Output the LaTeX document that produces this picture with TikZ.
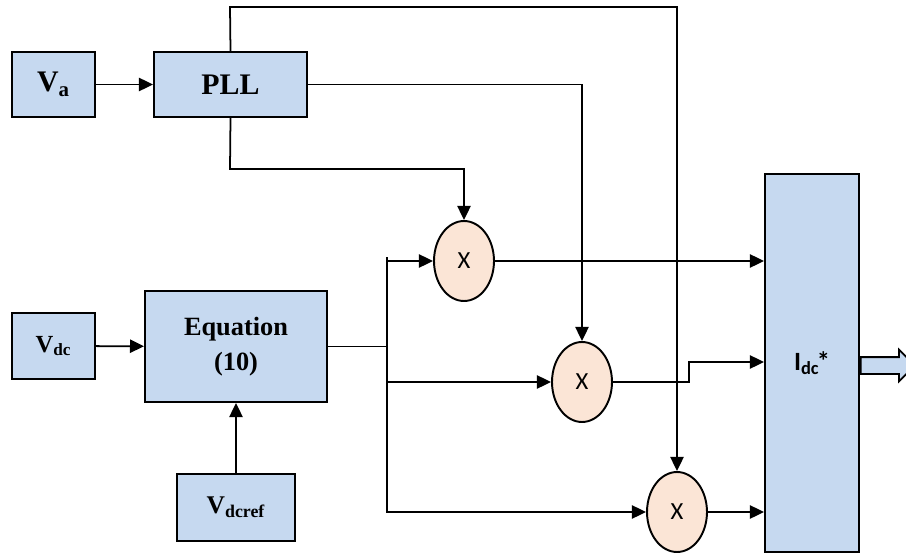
\documentclass[tikz,border=0pt]{standalone}
\usepackage{fontspec}
\setmainfont{Liberation Serif}
\newfontfamily\calfont{Carlito}
\usepackage{tikz}
\usetikzlibrary{shapes,arrows.meta,positioning,calc}
\usepackage{xcolor}
\definecolor{boxblue}{RGB}{198,217,240}
\definecolor{mulpeach}{RGB}{251,229,214}

\begin{document}
\begin{tikzpicture}[
    x=0.02cm, y=-0.02cm,
    blk/.style={rectangle, draw=black, fill=boxblue, line width=1.1pt,
        font=\bfseries, align=center},
    mul/.style={ellipse, draw=black, fill=mulpeach, line width=1.1pt,
        minimum width=1.2cm, minimum height=1.6cm, font=\calfont\fontsize{14}{16}\selectfont},
    wire/.style={line width=1pt},
    >={Triangle[length=8pt,width=7.5pt]}
]
\useasboundingbox (0,0) rectangle (906,554);
% blocks
\node[blk, minimum width=1.66cm, minimum height=1.3cm, font=\bfseries\fontsize{17}{19}\selectfont] (va) at (53.5,84.5) {V\textsubscript{a}};
\node[blk, minimum width=3.06cm, minimum height=1.3cm, font=\bfseries\fontsize{17}{19}\selectfont] (pll) at (230.5,84.5) {PLL};
\node[blk, minimum width=1.66cm, minimum height=1.32cm, font=\bfseries\fontsize{14}{16}\selectfont] (vdc) at (53.5,346) {V\textsubscript{dc}};
\node[blk, minimum width=3.64cm, minimum height=2.22cm, font=\bfseries\fontsize{15}{20}\selectfont] (eqn) at (236,346.5) {Equation\\(10)};
\node[blk, minimum width=2.36cm, minimum height=1.34cm, font=\bfseries\fontsize{14.5}{16}\selectfont] (vdcref) at (236,507.5) {V\textsubscript{dcref}};
\node[blk, minimum width=1.88cm, minimum height=7.56cm, font=\calfont\bfseries\fontsize{15}{17}\selectfont] (idc) at (812,363) {I\textsubscript{dc}\kern-1.5pt*};
% multipliers
\node[mul] (m1) at (464,261) {X};
\node[mul] (m2) at (582,382) {X};
\node[mul] (m3) at (677,512) {X};
% bus
\coordinate (bustop) at (387,257);
\coordinate (busbot) at (387,513);
\coordinate (hi) at (230,7);
\coordinate (lo) at (230,169);
\coordinate (step) at (689,382);
% connectors
\draw[->, wire] (va) -- (pll);
\draw[->, wire] (vdc) -- (eqn);
\draw[->, wire] (vdcref) -- (eqn);
\draw[->, wire] (pll.north) -- (hi) -| (m3.north);
\draw[->, wire] (pll.east) -| (m2.north);
\draw[->, wire] (pll.south) -- (lo) -| (m1.north);
\draw[wire] (eqn.east) -- (eqn.east -| bustop);
\draw[wire] (bustop) -- (busbot);
\draw[->, wire] (bustop |- m1) -- (m1.west);
\draw[->, wire] (bustop |- m2) -- (m2.west);
\draw[->, wire] (bustop |- m3) -- (m3.west);
\draw[->, wire] (m1.east) -- (m1 -| idc.west);
\draw[->, wire] (m2.east) -- (step) |- ($(idc.west)+(0,-1)$);
\draw[->, wire] (m3.east) -- (m3 -| idc.west);
% output
\node[single arrow, draw=black, fill=boxblue, line width=1pt, inner sep=0pt, inner ysep=0.15cm,
    single arrow head extend=0.15cm, single arrow tip angle=90,
    minimum height=1.08cm, anchor=tail] (out) at ($(idc.east)+(0,2.5)$) {};
\end{tikzpicture}
\end{document}
